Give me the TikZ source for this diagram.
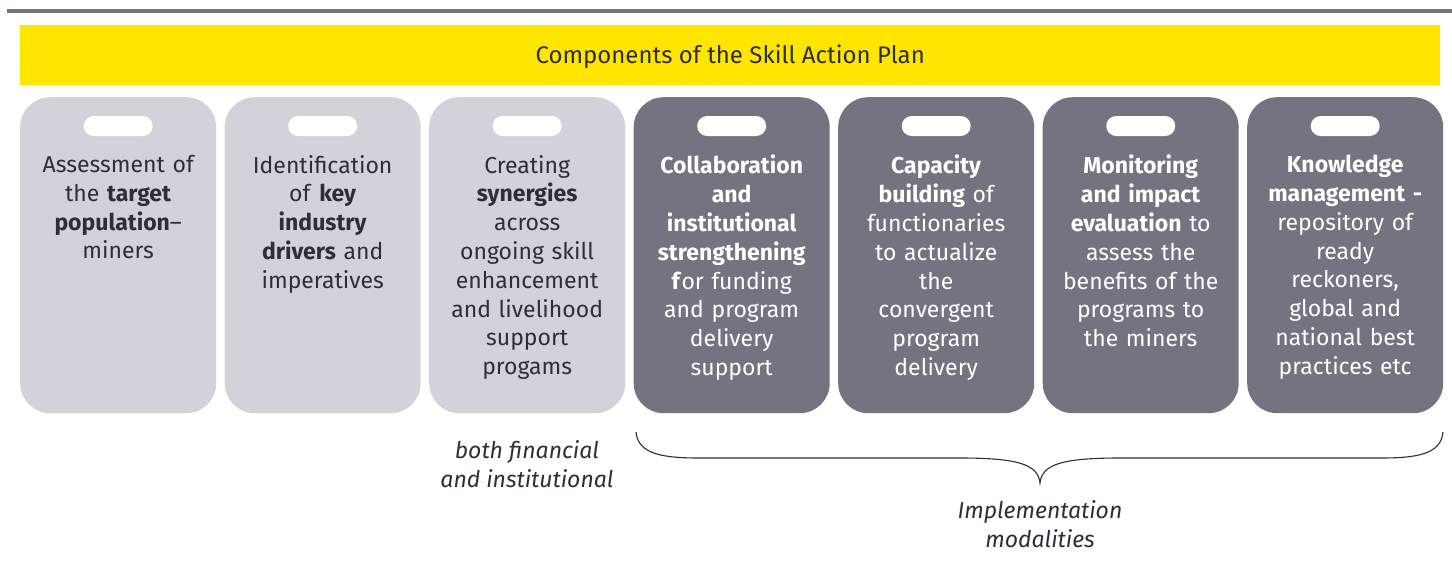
\documentclass[tikz,border=0pt]{standalone}
\usepackage{fontspec}
\setmainfont{Fira Sans}
\definecolor{eyyellow}{HTML}{FFE600}
\definecolor{eygray}{HTML}{747480}
\definecolor{eylight}{HTML}{D2D3DA}
\definecolor{eydark}{HTML}{2E2E38}
\tikzset{
  card/.style={rounded corners=30pt, minimum width=196pt, minimum height=316pt, inner sep=0pt, draw=none},
  lightcard/.style={card, fill=eylight},
  darkcard/.style={card, fill=eygray},
  pill/.style={rounded corners=10pt, minimum width=69pt, minimum height=20pt, inner sep=0pt, fill=white},
  cardtext/.style={anchor=north, align=center, text width=194pt, inner sep=0pt, font=\fontsize{23}{28.8}\selectfont},
  lighttext/.style={cardtext, text=eydark},
  darktext/.style={cardtext, text=white},
  note/.style={align=center, text=eydark, inner sep=0pt, font=\fontsize{23}{29}\selectfont\itshape},
}
\begin{document}
\begin{tikzpicture}[x=1pt,y=-1pt]
\useasboundingbox (0,0) rectangle (1452,563);
\fill[white] (0,0) rectangle (1452,563);
% top rule
\fill[eygray] (7,9) rectangle (1452,13);
% title bar
\node[fill=eyyellow, minimum width=1420pt, minimum height=60pt, inner sep=0pt, anchor=north west] (bar) at (20,25) {};
\node[text=eydark, font=\fontsize{24}{28}\selectfont] (title) at ([yshift=-1pt]bar.center) {Components of the Skill Action Plan};
% cards
\foreach \i/\s in {1/lightcard,2/lightcard,3/lightcard,4/darkcard,5/darkcard,6/darkcard,7/darkcard}{
  \node[\s, anchor=north west] (c\i) at ({20+(\i-1)*204.5},97) {};
  \node[pill] (p\i) at ([yshift=-29pt]c\i.north) {};
}
\node[lighttext] (t1) at ([yshift=-58pt]c1.north) {Assessment of\\ the \textbf{target}\\ \textbf{population}–\\ miners};
\node[lighttext] (t2) at ([yshift=-58pt]c2.north) {Identification\\ of \textbf{key}\\ \textbf{industry}\\ \textbf{drivers} and\\ imperatives};
\node[lighttext] (t3) at ([yshift=-58pt]c3.north) {Creating\\ \textbf{synergies}\\ across\\ ongoing skill\\ enhancement\\ and livelihood\\ support\\ progams};
\node[darktext] (t4) at ([yshift=-58pt]c4.north) {\textbf{Collaboration}\\ \textbf{and}\\ \textbf{institutional}\\ \textbf{strengthening}\\ \textbf{f}or funding\\ and program\\ delivery\\ support};
\node[darktext] (t5) at ([yshift=-58pt]c5.north) {\textbf{Capacity}\\ \textbf{building} of\\ functionaries\\ to actualize\\ the\\ convergent\\ program\\ delivery};
\node[darktext] (t6) at ([yshift=-58pt]c6.north) {\textbf{Monitoring}\\ \textbf{and impact}\\ \textbf{evaluation} to\\ assess the\\ benefits of the\\ programs to\\ the miners};
\node[darktext] (t7) at ([yshift=-58pt]c7.north) {\textbf{Knowledge}\\ \textbf{management -}\\ repository of\\ ready\\ reckoners,\\ global and\\ national best\\ practices etc};
% notes
\node[note] (n1) at (527,464) {both financial\\ and institutional};
\node[note] (n2) at (1040,524) {Implementation\\ modalities};
% brace
\coordinate (bl) at (636,432);
\coordinate (br) at (1443,432);
\coordinate (btip) at (1040,483);
\draw[eydark, line width=1.1pt]
  (bl) .. controls (638,455) and (665,458) .. (700,458) -- (960,458)
  .. controls (1020,458) and (1038,465) .. (btip)
  .. controls (1042,465) and (1060,458) .. (1120,458) -- (1380,458)
  .. controls (1415,458) and (1441,455) .. (br);
\end{tikzpicture}
\end{document}
